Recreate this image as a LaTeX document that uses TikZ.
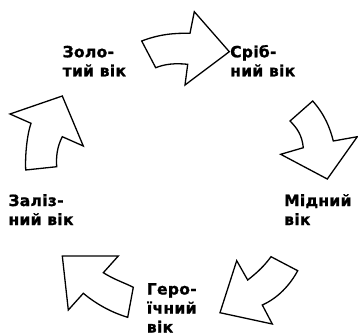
\documentclass[tikz,border=0pt]{standalone}
\usepackage{fontspec}
\setmainfont{DejaVu Sans}
\newfontfamily\lblfont[UprightFont=* Bold,FakeBold=1.2,LetterSpace=2]{DejaVu Sans}
\begin{document}
\begin{tikzpicture}[x=1pt,y=-1pt,
  arr/.style={draw=black,fill=white,line width=1.3pt,line join=miter},
  lbl/.style={anchor=base west,inner sep=0pt,align=left,font=\lblfont\fontsize{15.5}{19}\selectfont}]
\useasboundingbox (0,0) rectangle (358,335);
% arrows
\path[arr] (141.7,41) .. controls (160,34) and (175,33) .. (190,33.3) -- (194.3,11.7) -- (229.3,51.7) -- (185,85) -- (187.7,64.3) .. controls (175,63) and (165,64) .. (155.7,67.7) -- cycle;
\path[arr] (312.7,101) .. controls (325,115) and (330,128) .. (333.3,141) -- (357.3,136.7) -- (327.3,179) -- (280.7,154.3) -- (303.3,147.7) .. controls (302,135) and (297,128) .. (290,121) -- cycle;
\path[arr] (271,256.7) -- (297.7,270.7) .. controls (290,285) and (278,298) .. (262.3,305) -- (272.3,324) -- (220,312.7) -- (236.7,260.7) -- (247.7,280) .. controls (258,272) and (265,265) .. (271,256.7) -- cycle;
\path[arr] (62.3,256) -- (118.3,256) -- (103.3,272.7) .. controls (115,280) and (125,283) .. (133.3,287.3) -- (127.7,317.3) .. controls (110,312) and (95,303) .. (83.3,293.3) -- (68.3,310) -- cycle;
\path[arr] (62.3,96) -- (83.3,146) -- (62.3,136.7) .. controls (57,147) and (56,157) .. (56.7,166.7) -- (25.7,170) .. controls (25,155) and (27,135) .. (31,123.3) -- (10,114) -- cycle;
% labels (anchor at baseline of last line)
\node[lbl] (gold) at (62.5,76.3) {Золо-\\тий вік};
\node[lbl] (silver) at (230,76.3) {Сріб-\\ний вік};
\node[lbl] (copper) at (284,225) {Мідний\\вік};
\node[lbl] (hero) at (146.7,332.5) {Геро-\\їчний\\вік};
\node[lbl] (iron) at (8.3,225) {Заліз-\\ний вік};
\end{tikzpicture}
\end{document}
